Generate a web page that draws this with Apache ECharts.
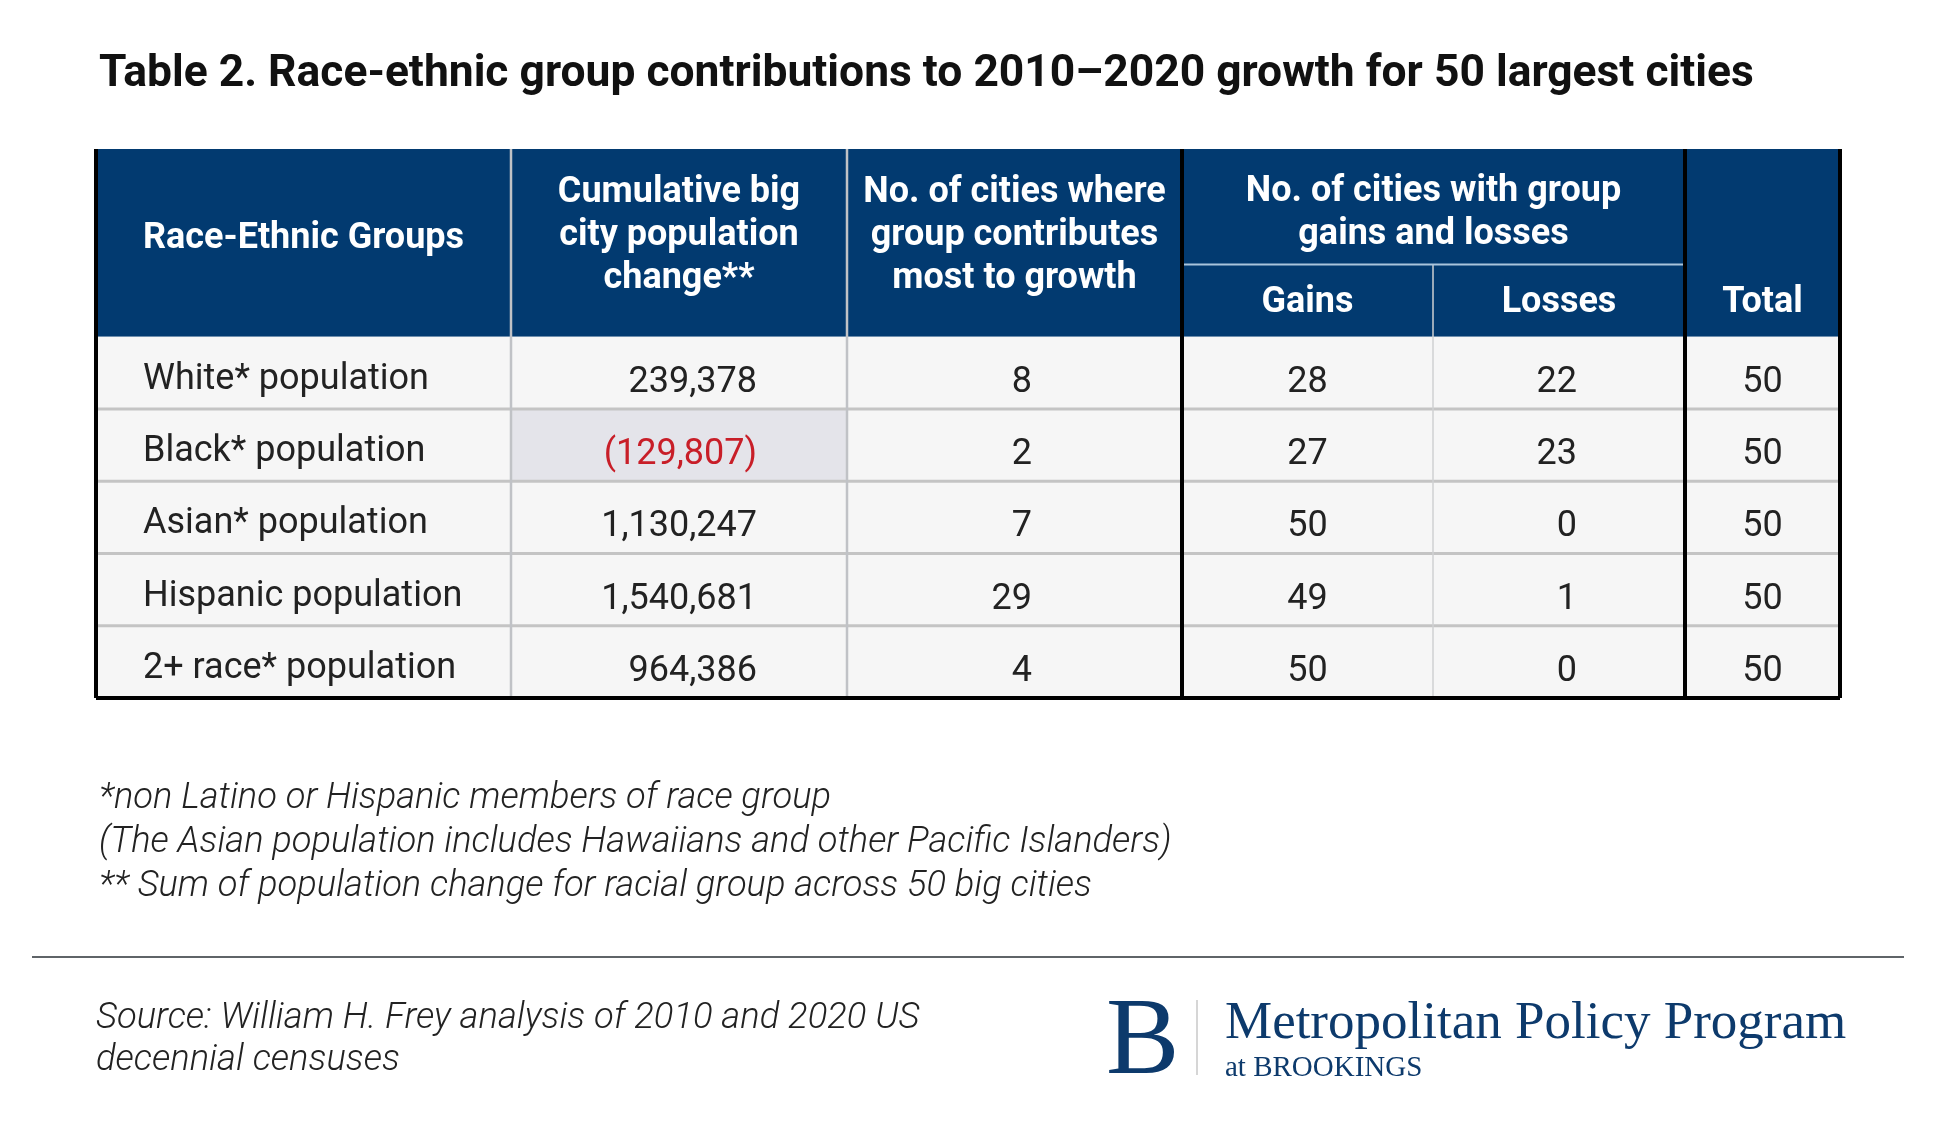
<!DOCTYPE html>
<html><head><meta charset="utf-8">
<script src="https://cdn.jsdelivr.net/npm/echarts@6/dist/echarts.min.js"></script>
<style>html,body{margin:0;padding:0;background:#fff}#c{width:1936px;height:1132px}</style>
</head><body><div id="c"></div>
<script>
// ---------- data ----------
const titleText = 'Table 2. Race-ethnic group contributions to 2010\u20132020 growth for 50 largest cities';
const groups = ['White* population', 'Black* population', 'Asian* population', 'Hispanic population', '2+ race* population'];
const popChange = [239378, -129807, 1130247, 1540681, 964386];
const mostGrowth = [8, 2, 7, 29, 4];
const gains = [28, 27, 50, 49, 50];
const losses = [22, 23, 0, 1, 0];
const totals = [50, 50, 50, 50, 50];
const headerTop = ['Race-Ethnic Groups', 'Cumulative big\ncity population\nchange**', 'No. of cities where\ngroup contributes\nmost to growth', 'No. of cities with group\ngains and losses', 'Total'];
const headerSub = ['Gains', 'Losses'];
const notes = ['*non Latino or Hispanic members of race group', '(The Asian population includes Hawaiians and other Pacific Islanders)', '** Sum of population change for racial group across 50 big cities'];
const sourceLines = ['Source: William H. Frey analysis of 2010 and 2020 US', 'decennial censuses'];
const logoName = 'Metropolitan Policy Program';
const logoSub = 'at BROOKINGS';

// ---------- layout / style ----------
const colW = [415, 336, 335, 251, 252, 155];
const colX = [0];
colW.forEach((w, i) => colX.push(colX[i] + w));
const H1 = 1.6, H2 = 1.0, HH = H1 + H2;
const nRows = groups.length;
const yMax = HH + nRows;
const NAVY = '#023a70';
const TXT = '#222222';
const FONT = 'Roboto';
const colAlign = [
  {align: 'left', pad: 47}, {align: 'right', pad: 90}, {align: 'right', pad: 150},
  {align: 'center'}, {align: 'right', pad: 108}, {align: 'center'}
];
const fmt = v => v < 0 ? '(' + Math.abs(v).toLocaleString('en-US') + ')' : v.toLocaleString('en-US');

// header cells
const cells = [
  {text: headerTop[0], c0: 0, c1: 1, r0: 0, r1: HH, head: true, dy: -4},
  {text: headerTop[1], c0: 1, c1: 2, r0: 0, r1: HH, head: true, dy: -7},
  {text: headerTop[2], c0: 2, c1: 3, r0: 0, r1: HH, head: true, dy: -7},
  {text: headerTop[3], c0: 3, c1: 5, r0: 0, r1: H1, head: true, dy: 7},
  {text: headerSub[0], c0: 3, c1: 4, r0: H1, r1: HH, head: true, dy: 2},
  {text: headerSub[1], c0: 4, c1: 5, r0: H1, r1: HH, head: true, dy: 2},
  {text: headerTop[4], c0: 5, c1: 6, r0: 0, r1: HH, head: true, textR0: H1, dy: 2}
];
// body cells
for (let r = 0; r < nRows; r++) {
  const vals = [groups[r], fmt(popChange[r]), String(mostGrowth[r]), String(gains[r]), String(losses[r]), String(totals[r])];
  vals.forEach((t, c) => {
    const neg = c === 1 && popChange[r] < 0;
    cells.push({text: t, c0: c, c1: c + 1, r0: HH + r, r1: HH + r + 1, head: false,
      fill: neg ? '#e4e4ea' : '#f6f6f6', color: neg ? '#c81e28' : TXT, dy: c === 0 ? 7 : 10});
  });
}

// grid lines
const segs = [];
for (let r = 1; r < nRows; r++) segs.push({p: [0, HH + r, colX[6], HH + r], s: 'row'});
segs.push({p: [colX[1], 0, colX[1], yMax], s: 'col'});
segs.push({p: [colX[2], 0, colX[2], yMax], s: 'col'});
segs.push({p: [colX[4], H1, colX[4], yMax], s: 'thin'});
segs.push({p: [colX[3], H1, colX[5], H1], s: 'sub'});
[0, 3, 5, 6].forEach(c => segs.push({p: [colX[c], 0, colX[c], yMax], s: 'black'}));
segs.push({p: [0, yMax, colX[6], yMax], s: 'black'});
const segStyle = {
  row: {stroke: '#c4c4c4', lineWidth: 3},
  col: {stroke: '#c0c2c6', lineWidth: 2.5},
  thin: {stroke: '#cfd0d2', lineWidth: 1.5},
  sub: {stroke: '#a9c4dc', lineWidth: 2},
  black: {stroke: '#000000', lineWidth: 4}
};

const chart = echarts.init(document.getElementById('c'), null, {renderer: 'canvas'});
chart.setOption({
  animation: false,
  backgroundColor: '#ffffff',
  grid: {left: 96, top: 149, width: colX[6], height: 549},
  xAxis: {type: 'value', min: 0, max: colX[6], show: false},
  yAxis: {type: 'value', min: 0, max: yMax, inverse: true, show: false},
  series: [
    {
      type: 'custom', z: 1, silent: true,
      data: cells.map(c => [colX[c.c0], c.r0, colX[c.c1], c.r1]),
      renderItem: (params, api) => {
        const cell = cells[params.dataIndex];
        const p0 = api.coord([api.value(0), api.value(1)]);
        const p1 = api.coord([api.value(2), api.value(3)]);
        const tTop = cell.textR0 !== undefined ? api.coord([0, cell.textR0])[1] : p0[1];
        const cy = (tTop + p1[1]) / 2 + cell.dy;
        let tx, align;
        if (cell.head) { tx = (p0[0] + p1[0]) / 2; align = 'center'; }
        else {
          const a = colAlign[cell.c0];
          align = a.align;
          tx = a.align === 'left' ? p0[0] + a.pad : a.align === 'right' ? p1[0] - a.pad : (p0[0] + p1[0]) / 2;
        }
        return {
          type: 'group',
          children: [
            {type: 'rect', shape: {x: p0[0], y: p0[1], width: p1[0] - p0[0], height: p1[1] - p0[1]},
              style: {fill: cell.head ? NAVY : cell.fill}},
            {type: 'text', x: tx, y: cy, z2: 10,
              style: {text: cell.text, fill: cell.head ? '#ffffff' : cell.color,
                fontFamily: FONT, fontSize: 36, fontWeight: cell.head ? 'bold' : 'normal',
                lineHeight: 43, align: align, verticalAlign: 'middle'}}
          ]
        };
      }
    },
    {
      type: 'custom', z: 3, silent: true,
      data: segs.map(s => s.p),
      renderItem: (params, api) => {
        const seg = segs[params.dataIndex];
        const a = api.coord([api.value(0), api.value(1)]);
        const b = api.coord([api.value(2), api.value(3)]);
        return {type: 'line', shape: {x1: a[0], y1: a[1], x2: b[0], y2: b[1]}, style: segStyle[seg.s]};
      }
    }
  ],
  graphic: [
    {type: 'text', x: 99, y: 75, style: {text: titleText, fontFamily: FONT, fontWeight: 'bold', fontSize: 44.4, fill: '#111111', verticalAlign: 'middle'}},
    ...notes.map((t, i) => ({type: 'text', x: 99, y: 799 + i * 44, style: {text: t, fontFamily: FONT, fontStyle: 'italic', fontWeight: 300, fontSize: 36.3, fill: TXT, verticalAlign: 'middle'}})),
    {type: 'line', shape: {x1: 32, y1: 957, x2: 1904, y2: 957}, style: {stroke: '#5f6468', lineWidth: 2}},
    ...sourceLines.map((t, i) => ({type: 'text', x: 96, y: 1019 + i * 42, style: {text: t, fontFamily: FONT, fontStyle: 'italic', fontWeight: 300, fontSize: 36.4, fill: TXT, verticalAlign: 'middle'}})),
    {type: 'text', x: 1106, y: 1099, style: {text: 'B', fontFamily: 'Liberation Serif', fontSize: 110, fill: '#0d3a6c', verticalAlign: 'bottom'}},
    {type: 'line', shape: {x1: 1197, y1: 1000, x2: 1197, y2: 1075}, style: {stroke: '#c8c8c8', lineWidth: 1.5}},
    {type: 'text', x: 1225, y: 1024, style: {text: logoName, fontFamily: 'Liberation Serif', fontSize: 53, fill: '#0d3a6c', verticalAlign: 'middle'}},
    {type: 'text', x: 1225, y: 1068, style: {text: logoSub, fontFamily: 'Liberation Serif', fontSize: 29, fill: '#0d3a6c', verticalAlign: 'middle'}}
  ]
});
</script></body></html>
